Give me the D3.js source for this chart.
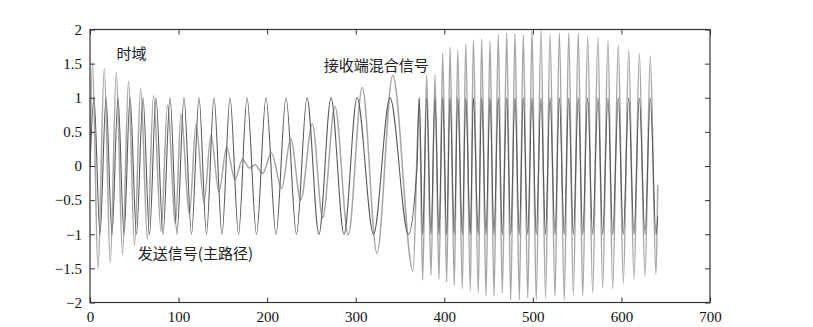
<!DOCTYPE html>
<html><head><meta charset="utf-8">
<script src="https://cdn.jsdelivr.net/npm/d3@7"></script>
<style>
html,body{margin:0;padding:0;background:#fff;}
svg{display:block;}
</style></head>
<body>
<svg id="chart" width="813" height="327"></svg>
<script>
// ---- data ----
const xTicks = [0, 100, 200, 300, 400, 500, 600, 700];
const yTicks = [-2, -1.5, -1, -0.5, 0, 0.5, 1, 1.5, 2];

// transmitted signal (main path): extrema points
const darkX = [0,4.5,11.3,18.1,24.8,31.6,38.4,45.2,52.5,59.8,67.2,74.5,82.4,90.3,98.2,106.1,114.6,123.1,131.5,140.0,149.0,158.1,167.7,177.3,188.0,198.7,210.0,221.3,233.1,245.0,258.5,272.1,286.8,301.5,320.1,338.7,359.4,369.2,
  371.8,375.6,380.1,385.0,389.5,394.0,398.2,402.7,406.5,411.3,415.2,420.4,424.2,429.4,432.8,438.4,442.2,447.1,451.6,456.1,461.0,465.5,470.5,475.0,479.8,484.7,489.2,494.2,499.0,503.8,509.2,514.3,519.4,525.0,529.9,535.5,540.5,545.7,551.3,556.3,561.9,567.5,573.5,578.8,584.8,590.1,596.5,602.1,608.2,614.2,620.2,626.6,632.6,639.0,641.0];
const darkY = [0,1,-1,1,-1,1,-1,1,-1,1,-1,1,-1,1,-1,1,-1,1,-1,1,-1,1,-1,1,-1,1,-1,1,-1,1,-1,1,-1,1,-1,1,-1,0,
  1,-1,1,-1,1,-1,1,-1,1,-1,1,-1,1,-1,1,-1,1,-1,1,-1,1,-1,1,-1,1,-1,1,-1,1,-1,1,-1,1,-1,1,-1,1,-1,1,-1,1,-1,1,-1,1,-1,1,-1,1,-1,1,-1,1,-1,-0.74];

// received mixed signal: extrema points
const grayX = [0,2.8,9.0,16.1,22.9,29.7,36.7,43.5,50.2,57.2,64.9,71.7,80.2,87.5,96.5,102.7,112.3,119.7,128.7,136.6,145.6,154.3,163.7,172.2,180.1,186.3,194.8,204.9,216.4,226.6,237.9,251.0,262.7,276.6,291.6,307.4,324.0,341.8,364.7,
  371.8,375.6,380.1,385.0,389.5,394.0,398.2,402.7,406.5,411.3,415.2,420.4,424.2,429.4,432.8,438.4,442.2,447.1,451.6,456.1,461.0,465.5,470.5,475.0,479.8,484.7,489.2,494.2,499.0,503.8,509.2,514.3,519.4,525.0,529.9,535.5,540.5,545.7,551.3,556.3,561.9,567.5,573.5,578.8,584.8,590.1,596.5,602.1,608.2,614.2,620.2,626.6,632.6,639.0,641.0];
const grayY = [0,1.51,-1.51,1.43,-1.42,1.37,-1.30,1.24,-1.16,1.14,-1.07,1.03,-0.96,0.89,-0.84,0.76,-0.70,0.61,-0.53,0.45,-0.38,0.27,-0.20,0.10,-0.03,0.02,-0.11,0.19,-0.33,0.40,-0.50,0.62,-0.76,0.87,-1.01,1.15,-1.28,1.33,-1.54,
  1.0,-1.67,1.33,-1.60,1.33,-1.66,1.65,-1.70,1.74,-1.75,1.70,-1.80,1.79,-1.83,1.85,-1.86,1.86,-1.90,1.83,-1.91,1.92,-1.86,1.95,-1.96,1.94,-1.96,1.92,-1.93,1.98,-1.96,1.99,-1.94,1.93,-1.91,1.95,-1.96,1.95,-1.89,1.94,-1.90,1.90,-1.86,1.88,-1.79,1.84,-1.80,1.78,-1.72,1.70,-1.66,1.65,-1.62,1.61,-1.58,-0.28];

const annotations = [
  {text: "时域", x: 30, y: 1.63},
  {text: "接收端混合信号", x: 264, y: 1.45},
  {text: "发送信号(主路径)", x: 54, y: -1.30}
];

// ---- drawing ----
const svg = d3.select("#chart");
const mLeft = 90, mRight = 710, mTop = 29.5, mBottom = 302.5;
const x = d3.scaleLinear().domain([0, 700]).range([mLeft, mRight]);
const y = d3.scaleLinear().domain([-2, 2]).range([mBottom, mTop]);

const fmt = d => (d < 0 ? "\u2212" : "") + Math.abs(d);
const axisColor = "#333";
const tickFont = "'Liberation Serif', 'DejaVu Serif', serif";

svg.append("defs").append("clipPath").attr("id", "clip")
  .append("rect").attr("x", mLeft).attr("y", mTop).attr("width", mRight - mLeft).attr("height", mBottom - mTop);

const line = d3.line().x(d => x(d[0])).y(d => y(d[1])).curve(d3.curveMonotoneX);
const grayPts = grayX.map((v, i) => [v, grayY[i]]);
const darkPts = darkX.map((v, i) => [v, darkY[i]]);

const g = svg.append("g").attr("clip-path", "url(#clip)");
g.append("path").attr("d", line(grayPts)).attr("fill", "none")
  .attr("stroke", "#a6a6a6").attr("stroke-width", 1.5).attr("stroke-linejoin", "round");
g.append("path").attr("d", line(darkPts)).attr("fill", "none")
  .attr("stroke", "#595959").attr("stroke-width", 1.1).attr("stroke-linejoin", "round");

// axes
function styleAxis(sel, showLabels) {
  sel.select(".domain").remove();
  sel.selectAll(".tick line").attr("stroke", axisColor).attr("stroke-width", 1);
  sel.selectAll(".tick text").attr("font-family", tickFont).attr("font-size", 15).attr("fill", "#111");
  if (!showLabels) sel.selectAll(".tick text").remove();
}
svg.append("g").attr("transform", `translate(0,${mBottom})`)
  .call(d3.axisBottom(x).tickValues(xTicks).tickFormat(fmt).tickSizeInner(-5).tickSizeOuter(0).tickPadding(9))
  .call(s => styleAxis(s, true));
svg.append("g").attr("transform", `translate(0,${mTop})`)
  .call(d3.axisTop(x).tickValues(xTicks).tickSizeInner(-5).tickSizeOuter(0))
  .call(s => styleAxis(s, false));
svg.append("g").attr("transform", `translate(${mLeft},0)`)
  .call(d3.axisLeft(y).tickValues(yTicks).tickFormat(fmt).tickSizeInner(-5).tickSizeOuter(0).tickPadding(8))
  .call(s => styleAxis(s, true));
svg.append("g").attr("transform", `translate(${mRight},0)`)
  .call(d3.axisRight(y).tickValues(yTicks).tickSizeInner(-5).tickSizeOuter(0))
  .call(s => styleAxis(s, false));

svg.append("rect").attr("x", mLeft).attr("y", mTop).attr("width", mRight - mLeft).attr("height", mBottom - mTop)
  .attr("fill", "none").attr("stroke", axisColor).attr("stroke-width", 1.2);

// annotations
svg.selectAll("text.anno").data(annotations).join("text").attr("class", "anno")
  .attr("x", d => x(d.x)).attr("y", d => y(d.y))
  .attr("dominant-baseline", "middle")
  .attr("font-family", "'Noto Sans CJK SC', sans-serif").attr("font-size", 15).attr("fill", "#222")
  .text(d => d.text);
</script>
</body></html>
